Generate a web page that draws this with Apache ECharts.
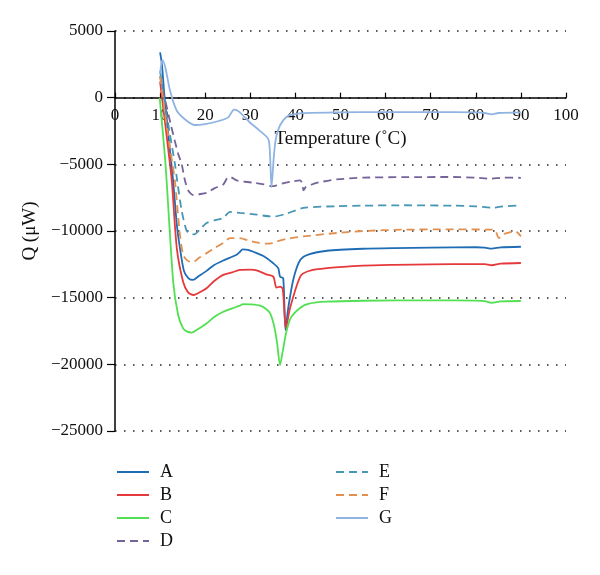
<!DOCTYPE html>
<html>
<head>
<meta charset="utf-8">
<script src="https://cdn.jsdelivr.net/npm/echarts@6/dist/echarts.min.js"></script>
<style>html,body{margin:0;padding:0;background:#fff}#c{width:600px;height:575px}</style>
</head>
<body>
<div id="c"></div>
<script>
const seriesNames = ['A', 'B', 'C', 'D', 'E', 'F', 'G'];
const xTicks = [0, 10, 20, 30, 40, 50, 60, 70, 80, 90, 100];
const yTicks = [5000, 0, -5000, -10000, -15000, -20000, -25000];

const dataA = [[10,3400],[10.4,2500],[11,0],[12.2,-4000],[12.9,-6260],[13.7,-9500],[14.4,-11280],[15.3,-13000],[16.3,-13550],[17.3,-13670],[18.5,-13400],[20.3,-12990],[22,-12550],[24,-12210],[27,-11780],[27.6,-11600],[28.3,-11380],[29.5,-11420],[31.4,-11660],[33,-11900],[35.1,-12420],[36.2,-12790],[36.6,-13420],[37.3,-13540],[37.8,-17440],[38.4,-15800],[39.6,-13550],[41.1,-12160],[43,-11750],[47,-11480],[55,-11330],[62,-11280],[70,-11250],[80,-11220],[82,-11240],[83.5,-11320],[85.5,-11230],[90,-11180]];
const dataB = [[10,1200],[10.6,-500],[11.5,-3000],[12.6,-6260],[13.7,-11280],[15.1,-13800],[16.2,-14600],[17.4,-14800],[18.5,-14650],[20.3,-14300],[22,-13750],[24,-13290],[26,-13100],[27.7,-12920],[30,-12900],[31.4,-12950],[33.5,-13250],[35.1,-13420],[35.8,-14250],[36.6,-14170],[37.2,-14350],[37.9,-17300],[38.8,-15800],[41.1,-13400],[43,-13000],[47,-12790],[55,-12600],[61.8,-12540],[70,-12500],[80,-12480],[82,-12490],[83.5,-12570],[85.5,-12450],[90,-12400]];
const dataC = [[9.9,0],[11.2,-5000],[12.9,-13800],[14,-16300],[15.1,-17300],[16,-17550],[17,-17615],[18,-17450],[20.3,-16940],[22,-16450],[24,-16060],[26,-15800],[27.7,-15600],[28.4,-15480],[30,-15500],[32.2,-15600],[33.5,-15850],[34.4,-16180],[35.2,-17000],[35.9,-18300],[36.6,-20050],[37.2,-19000],[38,-17560],[39,-16500],[41.1,-15750],[43,-15450],[47,-15300],[55,-15230],[70,-15200],[80,-15220],[82,-15260],[83.5,-15380],[85.5,-15280],[90,-15250]];
const dataD = [[10,1600],[11,0],[12.5,-2200],[14,-4200],[14.8,-5000],[15.5,-6200],[16.3,-7000],[17.4,-7310],[18.5,-7250],[20.3,-7140],[22,-6800],[24,-6510],[24.9,-6010],[25.5,-5950],[27,-6210],[30.7,-6380],[33,-6500],[34.4,-6630],[35.1,-6630],[37,-6450],[39,-6300],[41,-6210],[41.5,-6400],[41.8,-6950],[42.3,-6700],[42.9,-6630],[44,-6460],[46,-6300],[49.2,-6130],[55,-6000],[64,-5960],[75,-5950],[80,-6000],[83.3,-6080],[86,-6000],[90,-6010]];
const dataE = [[10,2000],[11,-300],[12.2,-2800],[13.3,-5000],[13.8,-6260],[14.8,-8500],[15.9,-10000],[16.8,-10200],[17.6,-10250],[18.8,-9900],[20.3,-9400],[22,-9200],[24,-9020],[25.5,-8570],[27.7,-8640],[31.4,-8770],[34.4,-8900],[35.5,-8900],[38,-8700],[41.8,-8270],[49.2,-8140],[55,-8100],[64,-8070],[75,-8100],[80,-8150],[83.9,-8250],[86,-8150],[90,-8090]];
const dataF = [[10,1600],[11,-1000],[12.3,-4000],[13.3,-6260],[14.3,-10000],[15.1,-11780],[16,-12200],[17.2,-12360],[18.5,-12050],[20.3,-11660],[22,-11300],[24,-10900],[25.5,-10530],[27.7,-10530],[29.5,-10700],[31.4,-10860],[33.3,-10950],[35,-10900],[35.9,-10780],[38,-10600],[41.8,-10400],[49.2,-10150],[55,-10000],[64,-9900],[75,-9880],[83.3,-9900],[84.3,-9950],[85.1,-10530],[86,-10250],[87,-10150],[88.8,-10030],[90,-10400]];
const dataG = [[10,1800],[10.3,2600],[10.6,2800],[11.2,2200],[12.2,530],[13.7,-980],[15.9,-1730],[17.7,-2050],[20,-1980],[23,-1750],[25.1,-1480],[26.4,-900],[27.5,-1050],[29.9,-1860],[32,-2450],[34,-3120],[34.4,-4500],[34.7,-6700],[35.2,-4500],[35.6,-3200],[36.3,-2300],[37.3,-1700],[38.5,-1350],[40,-1230],[42,-1160],[49,-1100],[60,-1080],[70,-1080],[80,-1100],[82,-1150],[83.5,-1250],[85,-1150],[90,-1100]];

const seriesData = [dataA, dataB, dataC, dataD, dataE, dataF, dataG];
const colors = ['#1f6db4', '#e5393b', '#52e052', '#75649a', '#4796b3', '#e2904f', '#8fb4e2'];
const dashed = [false, false, false, true, true, true, false];

const FONT = 'Liberation Serif';
const GRID_TOP = 31, GRID_BOTTOM = 144, H = 575;
const plotH = H - GRID_TOP - GRID_BOTTOM;
// distance from grid bottom up to the value 0 on the y axis
const zeroOffset = plotH * (0 - yTicks[yTicks.length - 1]) / (yTicks[0] - yTicks[yTicks.length - 1]);

const chart = echarts.init(document.getElementById('c'));

const series = seriesNames.map((n, i) => ({
  name: n,
  type: 'line',
  data: seriesData[i],
  symbol: 'none',
  smooth: 0.25,
  lineStyle: { color: colors[i], width: 1.8, type: dashed[i] ? [8, 5] : 'solid' },
  itemStyle: { color: colors[i] },
  z: 3
}));

const legendCommon = {
  orient: 'vertical',
  top: 458,
  itemWidth: 32,
  itemHeight: 14,
  itemGap: 5,
  itemStyle: { opacity: 0 },
  textStyle: { fontFamily: FONT, fontSize: 18, color: '#111', lineHeight: 18, padding: [0, 0, 0, 6] }
};

chart.setOption({
  animation: false,
  backgroundColor: '#fff',
  grid: { left: 115, right: 34, top: GRID_TOP, bottom: GRID_BOTTOM, containLabel: false },
  legend: [
    Object.assign({}, legendCommon, { left: 111, data: seriesNames.slice(0, 4) }),
    Object.assign({}, legendCommon, { left: 330, data: seriesNames.slice(4) })
  ],
  xAxis: {
    type: 'value',
    min: xTicks[0], max: xTicks[xTicks.length - 1], interval: 10,
    position: 'bottom',
    offset: -zeroOffset,
    name: 'Temperature (˚C)',
    nameLocation: 'middle',
    nameGap: 32,
    nameTextStyle: { fontFamily: FONT, fontSize: 19, color: '#111' },
    axisLine: { onZero: false, lineStyle: { color: '#000', width: 1.5 } },
    axisTick: { show: true, inside: true, length: 5, lineStyle: { color: '#000', width: 1.2 } },
    axisLabel: { fontFamily: FONT, fontSize: 17, color: '#111', margin: 9, interval: 0 },
    splitLine: { show: false }
  },
  yAxis: {
    type: 'value',
    min: yTicks[yTicks.length - 1], max: yTicks[0], interval: 5000,
    name: 'Q (μW)',
    nameLocation: 'middle',
    nameGap: 66,
    nameTextStyle: { fontFamily: FONT, fontSize: 19, color: '#111' },
    axisLine: { show: true, onZero: false, lineStyle: { color: '#000', width: 1.5 } },
    axisTick: { show: true, inside: false, length: 8, lineStyle: { color: '#000', width: 1.2 } },
    axisLabel: { fontFamily: FONT, fontSize: 17, color: '#111', margin: 12,
      formatter: v => (v < 0 ? '\u2212' + Math.abs(v) : String(v)) },
    splitLine: { show: true, lineStyle: { color: '#222', width: 1.5, type: [1.5, 7.5] } }
  },
  series: series
});
</script>
</body>
</html>
